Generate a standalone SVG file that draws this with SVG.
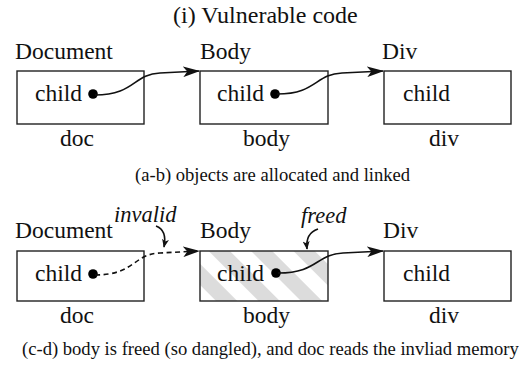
<svg xmlns="http://www.w3.org/2000/svg" width="519" height="366" viewBox="0 0 519 366">
<style>
text{font-family:"Liberation Serif","Times New Roman",serif;fill:#111}
.t{font-size:23.5px}
.ti{font-size:24px}
.cap{font-size:18.6px}
.it{font-size:22.5px;font-style:italic}
.box{fill:#fff;stroke:#222;stroke-width:1.4}
.ln{fill:none;stroke:#111;stroke-width:1.6}
.dash{stroke-dasharray:5 3.5}
.dot{fill:#000}
</style>
<defs>
<marker id="ah" viewBox="0 0 16 10" markerUnits="userSpaceOnUse" markerWidth="17" markerHeight="11" refX="15" refY="5" orient="auto">
<path d="M0,0 L16,5 L0,10 L4,5 z" fill="#111"/>
</marker>
<marker id="sm" viewBox="0 0 10 8" markerUnits="userSpaceOnUse" markerWidth="9" markerHeight="7" refX="9" refY="4" orient="auto">
<path d="M0,0 L10,4 L0,8 L2.5,4 z" fill="#111"/>
</marker>
<pattern id="hatch" patternUnits="userSpaceOnUse" width="30" height="30" patternTransform="rotate(-45)">
<rect width="30" height="30" fill="#fff"/>
<rect width="15" height="30" fill="#dcdcdc"/>
</pattern>
</defs>
<text class="ti" x="173" y="23">(i) Vulnerable code</text>

<g id="doc-top">
<text class="t" x="15" y="59">Document</text>
<rect class="box" x="17" y="71" width="127" height="53"/>
<text class="t" x="35" y="101">child</text>
<circle class="dot" cx="93" cy="94" r="4.8"/>
<text class="t" x="60" y="146">doc</text>
</g>
<g id="body-top">
<text class="t" x="200" y="59">Body</text>
<rect class="box" x="200" y="71" width="128" height="53"/>
<text class="t" x="217" y="101">child</text>
<circle class="dot" cx="275" cy="94" r="4.8"/>
<text class="t" x="243" y="146">body</text>
</g>
<g id="div-top">
<text class="t" x="382" y="59">Div</text>
<rect class="box" x="384" y="71" width="127" height="53"/>
<text class="t" x="403" y="101">child</text>
<text class="t" x="429" y="146">div</text>
</g>
<text class="cap" x="135" y="181">(a-b) objects are allocated and linked</text>

<g id="doc-bottom">
<text class="t" x="15" y="238">Document</text>
<rect class="box" x="17" y="251" width="127" height="50"/>
<text class="t" x="35" y="281">child</text>
<circle class="dot" cx="93" cy="274" r="4.8"/>
<text class="t" x="60" y="323">doc</text>
</g>
<g id="body-bottom">
<text class="t" x="200" y="238">Body</text>
<rect class="box" x="200" y="251" width="128" height="50" style="fill:url(#hatch)"/>
<text class="t" x="217" y="281">child</text>
<circle class="dot" cx="276" cy="273" r="4.8"/>
<text class="t" x="243" y="323">body</text>
</g>
<g id="div-bottom">
<text class="t" x="383" y="238">Div</text>
<rect class="box" x="384" y="251" width="127" height="50"/>
<text class="t" x="403" y="281">child</text>
<text class="t" x="429" y="323">div</text>
</g>
<g id="label-invalid"><text class="it" x="114" y="222">invalid</text></g>
<g id="label-freed"><text class="it" x="301" y="223">freed</text></g>
<text class="cap" x="22" y="355">(c-d) body is freed (so dangled), and doc reads the invliad memory</text>

<g id="connectors">
<path class="ln" marker-end="url(#ah)" d="M95,95 C135,95 133,74 160,73 L199,71"/>
<path class="ln" marker-end="url(#ah)" d="M277,94 C317,94 315,74 342,73 L383,71"/>
<path class="ln dash" marker-end="url(#ah)" d="M95,275 C135,275 133,254 160,253 L199,251"/>
<path class="ln" marker-end="url(#ah)" d="M278,273 C318,273 316,254 343,253 L383,251"/>
<path class="ln" stroke-width="1.3" marker-end="url(#sm)" d="M156,226 C164,229 166,237 164,247"/>
<path class="ln" stroke-width="1.3" marker-end="url(#sm)" d="M318,229 C309,232 306,240 307,249"/>
</g>
</svg>
